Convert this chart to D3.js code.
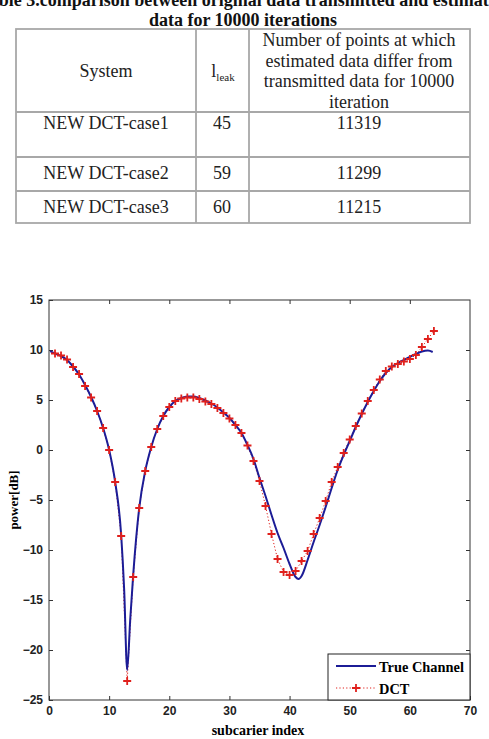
<!DOCTYPE html>
<html>
<head>
<meta charset="utf-8">
<script src="https://cdn.jsdelivr.net/npm/d3@7"></script>
<style>
  body { margin: 0; background: #fff; }
  svg { display: block; }
</style>
</head>
<body>
<div id="chart"></div>
<script>
// table content
const titleLines = [
  'Table 3.comparison between original data transmitted and estimated',
  'data for 10000 iterations'
];
const headerCol3 = ['Number of points at which', 'estimated data differ from', 'transmitted data for 10000', 'iteration'];
const systems = ['NEW DCT-case1', 'NEW DCT-case2', 'NEW DCT-case3'];
const leaks = [45, 59, 60];
const diffPoints = [11319, 11299, 11215];

// chart data
const xTicks = [0, 10, 20, 30, 40, 50, 60, 70];
const yTicks = [15, 10, 5, 0, -5, -10, -15, -20, -25];

const dctX = d3.range(1, 65);
const dctY = [
  9.65, 9.45, 9.05, 8.3, 7.6, 6.4, 5.25, 3.9, 2.2, 0.0,
  -3.2, -8.6, -23.1, -12.7, -5.8, -2.1, 0.3, 2.1, 3.4, 4.3,
  4.9, 5.15, 5.25, 5.25, 5.1, 4.85, 4.6, 4.2, 3.7, 3.15,
  2.5, 1.7, 0.45, -1.1, -3.1, -5.6, -8.4, -10.9, -12.2, -12.5,
  -12.1, -11.1, -10.1, -8.4, -6.8, -5.1, -3.2, -1.7, -0.3, 1.05,
  2.4, 3.65, 4.9, 6.0, 7.05, 7.9, 8.35, 8.6, 8.85, 9.1,
  9.5, 10.3, 11.1, 11.9
];

const trueX = [0.2, 1, 2, 3, 4, 5, 6, 7, 8, 9, 10, 11, 12, 12.5, 13, 13.5, 14, 15, 16, 17,
  18, 19, 20, 21, 22, 23, 24, 25, 26, 27, 28, 29, 30, 31, 32, 33, 34, 35, 36, 37,
  38, 39, 40, 41, 41.5, 42, 43, 44, 45, 46, 47, 48, 49, 50, 51, 52, 53, 54, 55, 56,
  57, 58, 59, 60, 61, 62, 63, 63.8];
const trueY = [9.9, 9.65, 9.4, 9.0, 8.35, 7.55, 6.5, 5.3, 3.9, 2.2, 0.0, -3.2, -8.5, -14, -22, -17, -12.5, -5.8, -2.1, 0.3,
  2.1, 3.4, 4.3, 4.9, 5.2, 5.35, 5.35, 5.2, 4.95, 4.65, 4.25, 3.75, 3.2, 2.5, 1.7, 0.5, -0.9, -2.8, -4.6, -6.5,
  -8.3, -9.8, -11.4, -12.7, -12.9, -12.6, -11.0, -9.2, -7.5, -5.7, -3.8, -2.0, -0.5, 0.9, 2.3, 3.6, 4.8, 5.9, 6.9, 7.7,
  8.3, 8.7, 9.0, 9.3, 9.6, 9.85, 9.95, 9.8];

const W = 489, H = 739;
const svg = d3.select('#chart').append('svg')
  .attr('width', W)
  .attr('height', H);

// ---- table ----
const serif = '"Liberation Serif", "Times New Roman", serif';
const sans = '"Liberation Sans", Arial, sans-serif';

// first title line is clipped by the top edge, as in the scanned page
svg.selectAll('text.title')
  .data(titleLines)
  .enter()
  .append('text')
  .attr('class', 'title')
  .attr('x', 243)
  .attr('y', (d, i) => 6 + i * 20)
  .attr('text-anchor', 'middle')
  .style('font-family', serif)
  .style('font-weight', 'bold')
  .style('font-size', '18px')
  .style('fill', '#111')
  .text(d => d);

const colX = [16, 196, 249, 470];
const rowY = [29, 112, 157, 191, 223];
const gridColor = '#a8a8a8';

const tbl = svg.append('g');
tbl.append('rect')
  .attr('x', colX[0]).attr('y', rowY[0])
  .attr('width', colX[3] - colX[0]).attr('height', rowY[4] - rowY[0])
  .attr('fill', 'none').attr('stroke', gridColor).attr('stroke-width', 1.8);
colX.slice(1, 3).forEach(x => {
  tbl.append('line').attr('x1', x).attr('x2', x).attr('y1', rowY[0]).attr('y2', rowY[4])
    .attr('stroke', gridColor).attr('stroke-width', 1.8);
});
rowY.slice(1, 4).forEach(y => {
  tbl.append('line').attr('x1', colX[0]).attr('x2', colX[3]).attr('y1', y).attr('y2', y)
    .attr('stroke', gridColor).attr('stroke-width', 1.8);
});

const cellText = (x, y, t) => tbl.append('text')
  .attr('x', x).attr('y', y)
  .attr('text-anchor', 'middle')
  .style('font-family', serif)
  .style('font-size', '18px')
  .style('fill', '#222')
  .text(t);

cellText(106, 77, 'System');
const leakLabel = tbl.append('text')
  .attr('x', 223).attr('y', 77)
  .attr('text-anchor', 'middle')
  .style('font-family', serif)
  .style('font-size', '18px')
  .style('fill', '#222');
leakLabel.append('tspan').text('l');
leakLabel.append('tspan').attr('dy', 4).style('font-size', '11px').text('leak');

headerCol3.forEach((t, i) => cellText(359, 46 + i * 20.6, t));

const rowTextY = [129, 179, 213];
systems.forEach((s, i) => {
  cellText(106, rowTextY[i], s);
  cellText(222, rowTextY[i], leaks[i]);
  cellText(359, rowTextY[i], diffPoints[i]);
});

// ---- chart ----
const x = d3.scaleLinear().domain([0, 70]).range([49, 470]);
const y = d3.scaleLinear().domain([-25, 15]).range([700, 300]);

const chart = svg.append('g');
const axisColor = '#333';

chart.append('g')
  .attr('transform', 'translate(0,700)')
  .call(d3.axisBottom(x).tickValues(xTicks).tickSizeInner(-4).tickSizeOuter(0).tickPadding(6))
  .call(g => g.select('.domain').remove())
  .call(g => g.selectAll('line').attr('stroke', axisColor));
chart.append('g')
  .attr('transform', 'translate(0,300)')
  .call(d3.axisTop(x).tickValues(xTicks.slice(1, -1)).tickSizeInner(-4).tickSizeOuter(0).tickFormat(''))
  .call(g => g.select('.domain').remove())
  .call(g => g.selectAll('line').attr('stroke', axisColor));
chart.append('g')
  .attr('transform', 'translate(49,0)')
  .call(d3.axisLeft(y).tickValues(yTicks).tickSizeInner(-4).tickSizeOuter(0).tickPadding(6))
  .call(g => g.select('.domain').remove())
  .call(g => g.selectAll('line').attr('stroke', axisColor));
chart.append('g')
  .attr('transform', 'translate(470,0)')
  .call(d3.axisRight(y).tickValues(yTicks.slice(1, -1)).tickSizeInner(-4).tickSizeOuter(0).tickFormat(''))
  .call(g => g.select('.domain').remove())
  .call(g => g.selectAll('line').attr('stroke', axisColor));

chart.selectAll('.tick text')
  .style('font-family', sans)
  .style('font-weight', 'bold')
  .style('font-size', '12px')
  .style('fill', '#222');

chart.append('rect')
  .attr('x', 49).attr('y', 300)
  .attr('width', 421).attr('height', 400)
  .attr('fill', 'none').attr('stroke', axisColor).attr('stroke-width', 1);

const blue = '#1c1c96';
const red = '#e0201c';

const trueData = trueX.map((d, i) => [d, trueY[i]]);
const dctData = dctX.map((d, i) => [d, dctY[i]]);
const line = d3.line().x(d => x(d[0])).y(d => y(d[1]));

chart.append('path')
  .datum(dctData)
  .attr('d', line)
  .attr('fill', 'none')
  .attr('stroke', red)
  .attr('stroke-width', 1)
  .attr('stroke-dasharray', '1.2,2.2');

chart.append('path')
  .datum(trueData)
  .attr('d', d3.line().x(d => x(d[0])).y(d => y(d[1])).curve(d3.curveMonotoneX))
  .attr('fill', 'none')
  .attr('stroke', blue)
  .attr('stroke-width', 2);

const plus = 'M-4,0H4M0,-4V4';
chart.selectAll('path.marker')
  .data(dctData)
  .enter()
  .append('path')
  .attr('class', 'marker')
  .attr('transform', d => `translate(${x(d[0])},${y(d[1])})`)
  .attr('d', plus)
  .attr('stroke', red)
  .attr('stroke-width', 1.8);

// legend
const lg = chart.append('g');
lg.append('rect')
  .attr('x', 328).attr('y', 654)
  .attr('width', 142).attr('height', 46)
  .attr('fill', '#fff').attr('stroke', '#222').attr('stroke-width', 1);
lg.append('line').attr('x1', 336).attr('x2', 376).attr('y1', 666).attr('y2', 666)
  .attr('stroke', blue).attr('stroke-width', 2);
lg.append('line').attr('x1', 336).attr('x2', 376).attr('y1', 688).attr('y2', 688)
  .attr('stroke', red).attr('stroke-width', 1).attr('stroke-dasharray', '1.2,2.2');
lg.append('path').attr('transform', 'translate(356,688)').attr('d', plus)
  .attr('stroke', red).attr('stroke-width', 1.8);
lg.append('text').attr('x', 379).attr('y', 672)
  .style('font-family', serif).style('font-weight', 'bold').style('font-size', '14.4px')
  .text('True Channel');
lg.append('text').attr('x', 379).attr('y', 694)
  .style('font-family', serif).style('font-weight', 'bold').style('font-size', '14.4px')
  .text('DCT');

// axis titles
svg.append('text')
  .attr('transform', 'translate(18,500) rotate(-90)')
  .attr('text-anchor', 'middle')
  .style('font-family', serif)
  .style('font-weight', 'bold')
  .style('font-size', '13px')
  .text('power[dB]');
svg.append('text')
  .attr('x', 258).attr('y', 735)
  .attr('text-anchor', 'middle')
  .style('font-family', serif)
  .style('font-weight', 'bold')
  .style('font-size', '14px')
  .text('subcarier index');
</script>
</body>
</html>
